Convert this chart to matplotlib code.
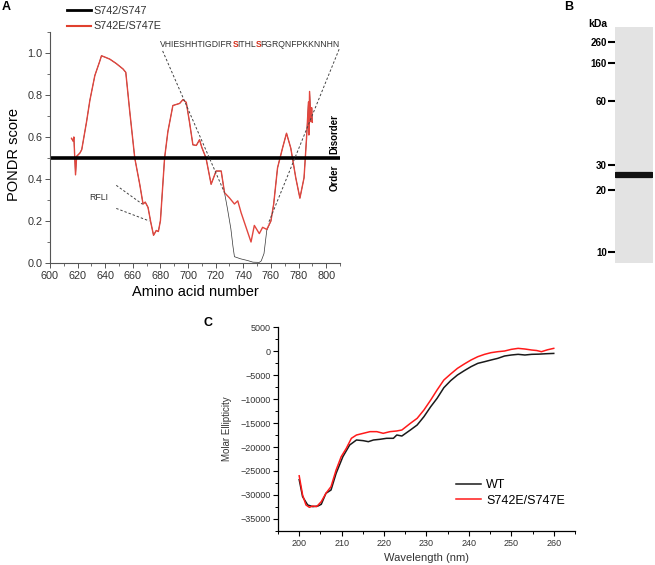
import matplotlib
matplotlib.use("Agg")
import matplotlib.pyplot as plt
from matplotlib.lines import Line2D
from matplotlib.ticker import MultipleLocator
import numpy as np

plt.rcParams['font.family'] = ['Liberation Sans', 'DejaVu Sans']

# ---- panel A: PONDR disorder prediction ----
mut_x = [615.6, 616.8, 617.3, 618.5, 619.3, 621.7, 623, 626.5, 628.9, 632.5, 636, 637.3,
         640, 643.3, 648, 652.9, 654.9, 657.8, 661.4, 665, 667.4, 669, 671, 673, 675,
         677, 678.5, 680, 683, 685.4, 689, 691.4, 693.9, 696.3, 698.7, 701, 703.5, 706,
         708.3, 710, 713, 716.7, 720.3, 724, 726.4, 730, 733.6, 736, 738.4, 742, 745.6,
         748, 751.6, 754, 757, 760, 762, 764.8, 768.4, 771.3, 774.4, 778, 781, 784,
         785.8, 787.2, 787.5, 788, 789, 789.5, 790]
mut_y = [0.594, 0.58, 0.60, 0.42, 0.508, 0.524, 0.54, 0.673, 0.775, 0.893, 0.96, 0.987,
         0.98, 0.971, 0.95, 0.924, 0.908, 0.72, 0.50, 0.375, 0.281, 0.29, 0.265, 0.194, 0.132,
         0.155, 0.15, 0.202, 0.50, 0.626, 0.75, 0.755, 0.76, 0.778, 0.765, 0.673, 0.563, 0.56,
         0.587, 0.55, 0.50, 0.375, 0.438, 0.438, 0.335, 0.31, 0.281, 0.296, 0.24, 0.17, 0.10,
         0.179, 0.14, 0.17, 0.16, 0.20, 0.28, 0.453, 0.547, 0.618, 0.547, 0.406, 0.309, 0.406,
         0.594, 0.767, 0.61, 0.817, 0.673, 0.74, 0.67]
# wild type differs from the mutant only between ~726 and ~760
wt_dip_x = [726.4, 728.5, 731, 732.5, 733.6, 738, 743, 747, 751.6, 753, 755, 757, 760]
wt_dip_y = [0.335, 0.26, 0.163, 0.08, 0.03, 0.02, 0.012, 0.004, 0.003, 0.01, 0.045, 0.155, 0.20]

sequence_parts = [("VHIESHHTIGDIFR", False), ("S", True), ("ITHL", False), ("S", True),
                  ("FGRQNFPKKNNHN", False)]

# ---- panel B: gel ----
kda_labels = ['260', '160', '60', '30', '20', '10']
kda_pos = [15.3, 36.3, 74, 138, 163, 224.7]   # migration along the lane
band_pos = 148

# ---- panel C: CD spectra ----
wt_wl = [200, 200.8, 202, 203.2, 204.4, 205.2, 206.3, 207.5, 208.7, 210.3, 211.9, 213.5,
         215.1, 216.3, 217.5, 219.0, 220.6, 222.2, 223.0, 224.2, 226.2, 227.8, 229.4, 231.0,
         232.5, 234.1, 235.7, 237.3, 238.9, 240.5, 242.1, 243.7, 245.2, 246.8, 248.4, 250.0,
         251.6, 253.2, 254.8, 256.5, 258.3, 260]
wt_cd = [-26800, -30350, -32080, -32430, -32300, -31940, -29650, -28960, -25490, -22010,
         -19580, -18540, -18680, -18890, -18540, -18400, -18190, -18190, -17500, -17710,
         -16460, -15420, -13680, -11600, -9860, -7640, -6180, -5000, -4100, -3260, -2570,
         -2220, -1875, -1530, -1040, -830, -690, -830, -690, -650, -560, -500]
mut_wl = [200, 200.8, 201.6, 202.4, 203.2, 204.1, 205.2, 206.3, 207.5, 208.7, 209.9, 211.1,
          212.3, 213.5, 215.1, 216.7, 218.3, 219.8, 221.4, 223.0, 224.2, 226.2, 227.8, 229.4,
          231.0, 232.5, 234.1, 235.7, 237.3, 238.9, 240.5, 242.1, 243.7, 245.2, 246.8, 248.4,
          250.0, 251.6, 253.2, 254.8, 256.0, 257.1, 258.5, 260]
mut_cd = [-26000, -30000, -32080, -32570, -32290, -32430, -31390, -29650, -28260, -24790,
          -22010, -20280, -18190, -17500, -17150, -16800, -16800, -17150, -16800, -16660,
          -16460, -15070, -14030, -12290, -10210, -8120, -6040, -4790, -3610, -2710, -1875,
          -1180, -690, -347, -139, 0, 347, 555, 417, 208, 100, -139, 250, 555]

fig = plt.figure(figsize=(6.55, 5.65), dpi=100)

# ================= A =================
ax = fig.add_axes([0.0763, 0.5345, 0.4427, 0.4088])
wt_x = [x for x in mut_x if x < wt_dip_x[0]] + wt_dip_x + [x for x in mut_x if x > wt_dip_x[-1]]
wt_y = ([y for x, y in zip(mut_x, mut_y) if x < wt_dip_x[0]] + wt_dip_y +
        [y for x, y in zip(mut_x, mut_y) if x > wt_dip_x[-1]])
ax.plot(wt_x, wt_y, color='#333333', lw=0.5)
ax.plot(mut_x, mut_y, color='#e2463e', lw=1.0)
ax.axhline(0.5, color='black', lw=2.6)

ax.set_xlim(600, 810)
ax.set_ylim(0, 1.1)
ax.xaxis.set_major_locator(MultipleLocator(20))
ax.xaxis.set_minor_locator(MultipleLocator(10))
ax.yaxis.set_major_locator(MultipleLocator(0.2))
ax.yaxis.set_minor_locator(MultipleLocator(0.1))
ax.yaxis.set_major_formatter(matplotlib.ticker.FormatStrFormatter('%.1f'))
for s in ['top', 'right']:
    ax.spines[s].set_visible(False)
for s in ['left', 'bottom']:
    ax.spines[s].set_color('#555555')
    ax.spines[s].set_linewidth(0.8)
ax.tick_params(which='major', direction='out', length=3.5, width=0.7, labelsize=7.8,
               colors='#555555', labelcolor='#333333', pad=2)
ax.tick_params(which='minor', direction='out', length=2, width=0.6, colors='#555555')
ax.set_xlabel('Amino acid number', fontsize=10.5, labelpad=3)
ax.set_ylabel('PONDR score', fontsize=10.5)
ax.yaxis.set_label_coords(-0.1, 0.47)

ax.text(806, 0.52, 'Disorder', rotation=90, fontsize=7, fontweight='bold', ha='center', va='bottom')
ax.text(806, 0.47, 'Order', rotation=90, fontsize=7, fontweight='bold', ha='center', va='top')

# sequence with the two serines highlighted
prev = None
for part, hl in sequence_parts:
    kw = dict(fontsize=6.2, color='#d4301c' if hl else '#333333',
              fontweight='bold' if hl else 'normal')
    if prev is None:
        prev = ax.text(680, 1.02, part, ha='left', va='bottom', **kw)
    else:
        prev = ax.annotate(part, xy=(1, 0), xycoords=prev, xytext=(-0.6, 0),
                           textcoords='offset points', ha='left', va='bottom', **kw)

dash = dict(color='#444444', lw=0.7, ls=(0, (2.5, 2)))
ax.plot([681.6, wt_dip_x[0]], [1.01, wt_dip_y[0]], **dash)
ax.plot([809.4, wt_dip_x[-1] - 2], [1.018, 0.187], clip_on=False, **dash)
ax.plot([648, 667], [0.37, 0.28], **dash)
ax.plot([648, 672], [0.26, 0.20], **dash)
ax.text(635, 0.31, 'RFLI', fontsize=6.3, color='#333333', ha='center', va='center')

leg_handles = [Line2D([], [], color='black', lw=2), Line2D([], [], color='#e0402e', lw=1.5)]
fig.legend(leg_handles, ['S742/S747', 'S742E/S747E'], loc='upper left',
           bbox_to_anchor=(0.09, 1.003), frameon=False, fontsize=7.8, handlelength=2.3,
           handletextpad=0.2, labelspacing=0.5, borderpad=0.2, labelcolor='#333333')

# ================= B =================
axb = fig.add_axes([0.9389, 0.5345, 0.058, 0.4177])
axb.set_facecolor('#e3e3e3')
axb.set_xlim(0, 1)
axb.set_ylim(236, 0)
axb.plot([0.03, 0.97], [band_pos, band_pos], color='#111111', lw=4.5, solid_capstyle='round')
axb.set_xticks([])
axb.set_yticks(kda_pos)
axb.set_yticklabels(kda_labels, fontweight='bold', fontsize=7)
axb.tick_params(axis='y', direction='out', length=5, width=1.5, pad=1)
for s in axb.spines.values():
    s.set_visible(False)
axb.text(-0.45, 1.013, 'kDa', transform=axb.transAxes, fontsize=7.5, fontweight='bold',
         ha='center', va='center')

# ================= C =================
axc = fig.add_axes([0.4244, 0.0602, 0.4534, 0.361])
axc.plot(wt_wl, wt_cd, color='#1a1a1a', lw=1.1, label='WT')
axc.plot(mut_wl, mut_cd, color='#ff1a1a', lw=1.1, label='S742E/S747E')
axc.set_xlim(195, 265)
axc.set_ylim(-37500, 5000)
axc.xaxis.set_major_locator(MultipleLocator(10))
axc.xaxis.set_minor_locator(MultipleLocator(5))
axc.yaxis.set_major_locator(MultipleLocator(5000))
axc.yaxis.set_minor_locator(MultipleLocator(2500))
for s in ['top', 'right']:
    axc.spines[s].set_visible(False)
for s in ['left', 'bottom']:
    axc.spines[s].set_linewidth(0.9)
axc.tick_params(which='major', direction='out', length=3.5, width=0.8, labelsize=6.5,
                labelcolor='#333333', pad=2)
axc.tick_params(which='minor', direction='out', length=2, width=0.7)
axc.set_xlabel('Wavelength (nm)', fontsize=8, labelpad=4, color='#333333')
axc.set_ylabel('Molar Ellipticity', fontsize=7, labelpad=6, color='#333333')
axc.legend(loc='upper left', bbox_to_anchor=(0.6, 0.255), frameon=False, fontsize=9,
           handlelength=2.0, handletextpad=0.4, labelspacing=0.3, borderpad=0,
           borderaxespad=0)

fig.text(6 / 655, 1 - 7 / 565, 'A', fontsize=9, fontweight='bold', ha='center', va='center')
fig.text(569 / 655, 1 - 7 / 565, 'B', fontsize=9, fontweight='bold', ha='center', va='center')
fig.text(208 / 655, 1 - 323 / 565, 'C', fontsize=9, fontweight='bold', ha='center', va='center')

fig.savefig('out.png', dpi=100)
